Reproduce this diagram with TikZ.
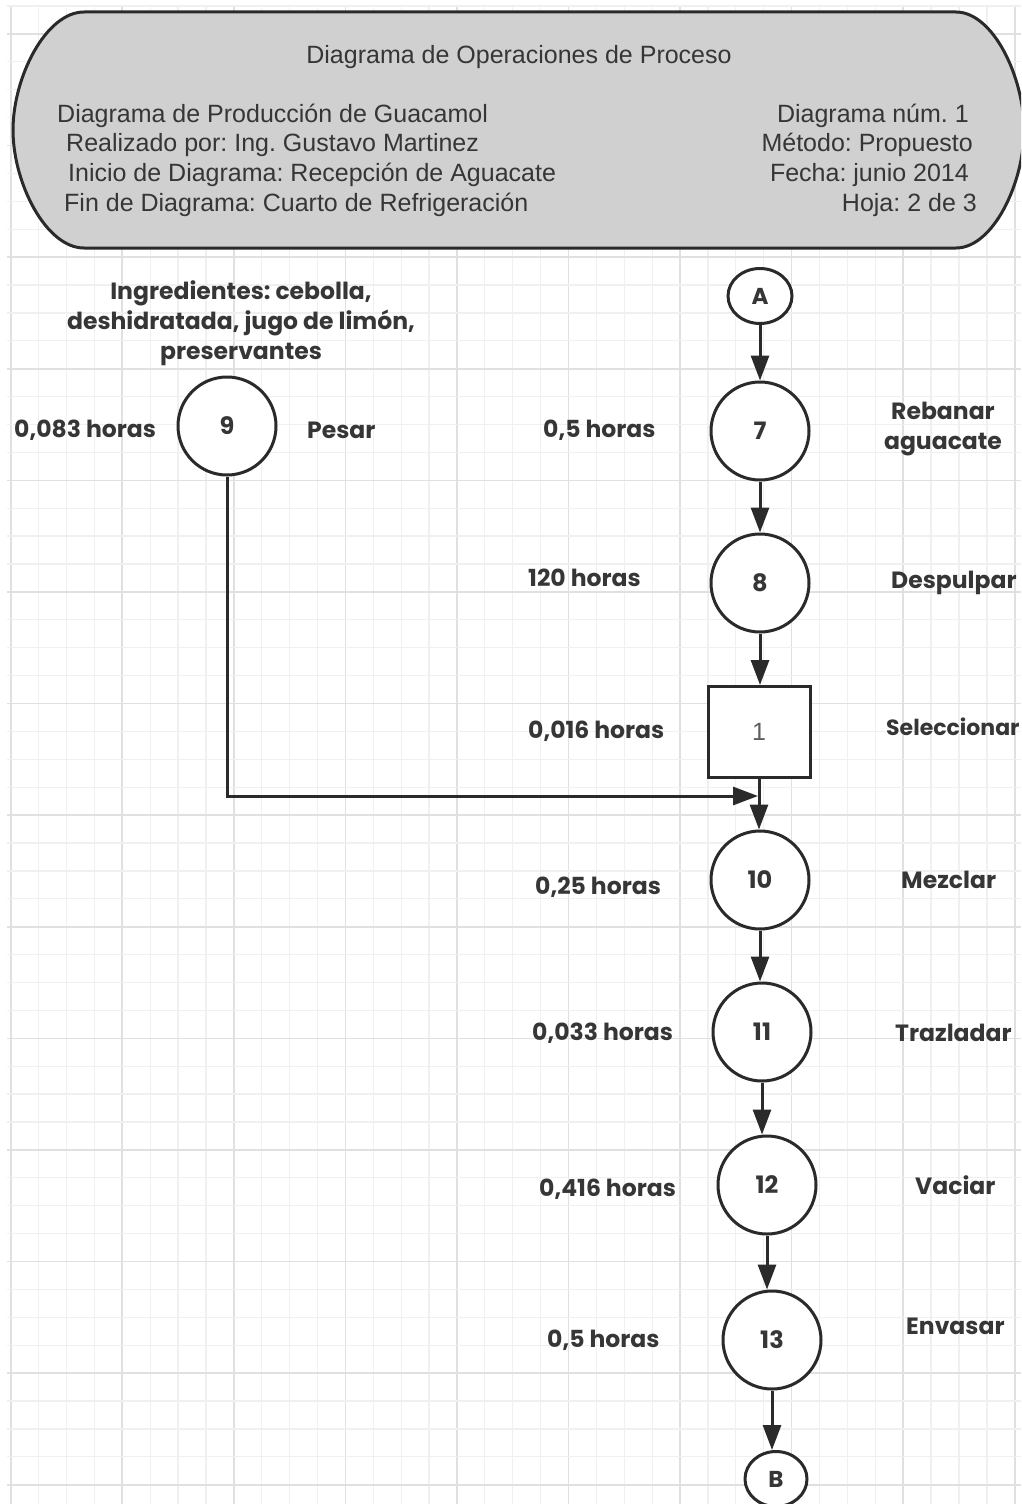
\documentclass[tikz,border=0pt]{standalone}
\usepackage{fontspec}
\setmainfont{Poppins}
\newfontfamily\hdrfont{Liberation Sans}
\frenchspacing
\usetikzlibrary{shapes.geometric,arrows.meta}
\definecolor{ink}{HTML}{2A2A2A}
\definecolor{txt}{HTML}{363636}
\definecolor{gridmajor}{HTML}{E0E0E0}
\definecolor{gridminor}{HTML}{F0F0F0}
\definecolor{hdrfill}{HTML}{D0D0D0}
\begin{document}
\begin{tikzpicture}[x=1pt,y=-1pt,
  op/.style={circle, draw=ink, line width=3pt, fill=white, minimum size=98pt,
    inner sep=0pt, text=txt, font=\fontsize{24}{28}\selectfont\bfseries},
  insp/.style={rectangle, draw=ink, line width=3pt, fill=white, minimum width=102pt,
    minimum height=91pt, inner sep=0pt, text=txt!80, font=\hdrfont\fontsize{25}{28}\selectfont},
  link/.style={ellipse, draw=ink, line width=3pt, fill=white, minimum width=64pt,
    minimum height=55pt, inner sep=0pt, text=txt, font=\fontsize{23}{26}\selectfont\bfseries},
  lbl/.style={inner sep=0pt, text=txt, font=\fontsize{23.5}{30}\selectfont\bfseries},
  hdr/.style={inner sep=0pt, text=txt, font=\hdrfont\fontsize{25}{30}\selectfont},
  arr/.style={draw=ink, line width=3pt, -{Triangle[length=25pt,width=18pt]}},
  flow/.style={draw=ink, line width=3pt}
]
\useasboundingbox (0,0) rectangle (1021,1504);
\clip (0,0) rectangle (1021,1504);
\fill[white] (0,0) rectangle (1021,1504);

% squared paper: a light line every 27.9 units, a darker one every fourth
\foreach \i in {0,...,36}{
  \pgfmathsetmacro\gx{10.7+27.89*\i}
  \pgfmathtruncatemacro\gm{mod(\i,4)}
  \ifnum\gm=0
    \draw[gridmajor, line width=1.6pt] (\gx,5) -- (\gx,1504);
  \else
    \draw[gridminor, line width=1.3pt] (\gx,5) -- (\gx,1504);
  \fi
}
\foreach \j in {0,...,53}{
  \pgfmathsetmacro\gy{6+27.9*\j}
  \pgfmathtruncatemacro\gm{mod(\j,4)}
  \ifnum\gm=1
    \draw[gridmajor, line width=1.6pt] (7,\gy) -- (1021,\gy);
  \else
    \draw[gridminor, line width=1.3pt] (7,\gy) -- (1021,\gy);
  \fi
}

% title block
\draw[ink, line width=3pt, fill=hdrfill]
  (84,12) -- (956,12)
  .. controls (993,12) and (1024,77) .. (1024,130)
  .. controls (1024,183) and (993,248) .. (956,248)
  -- (84,248)
  .. controls (46,248) and (13,183) .. (13,130)
  .. controls (13,77) and (46,12) .. cycle;

\node[hdr] (title) at (519,57) {Diagrama de Operaciones de Proceso};
\node[hdr, anchor=west] (h1) at (57,116) {Diagrama de Producción de Guacamol};
\node[hdr, anchor=west] (h2) at (66,145) {Realizado por: Ing. Gustavo Martinez};
\node[hdr, anchor=west] (h3) at (68,175) {Inicio de Diagrama: Recepción de Aguacate};
\node[hdr, anchor=west] (h4) at (64,205) {Fin de Diagrama: Cuarto de Refrigeración};
\node[hdr, anchor=east] (r1) at (969,116) {Diagrama núm. 1};
\node[hdr, anchor=east] (r2) at (973,145) {Método: Propuesto};
\node[hdr, anchor=east] (r3) at (969,175) {Fecha: junio 2014};
\node[hdr, anchor=east] (r4) at (977,205) {Hoja: 2 de 3};

% side branch
\node[lbl, align=center] (ingr) at (241,323)
  {Ingredientes: cebolla,\\deshidratada, jugo de limón,\\preservantes};
\node[op] (n9) at (227,426) {9};
\node[lbl, anchor=west] (t9) at (14,430) {0,083 horas};
\node[lbl, anchor=west] (d9) at (307,430) {Pesar};

% main line
\node[link] (A) at (760,296) {A};
\node[op] (n7) at (760,431) {7};
\node[op] (n8) at (760,583) {8};
\node[insp] (n1) at (759,732) {1};
\node[op] (n10) at (760,880) {10};
\node[op] (n11) at (762,1032) {11};
\node[op] (n12) at (767,1185) {12};
\node[op] (n13) at (772,1340) {13};
\node[link, minimum width=62pt] (B) at (776,1479) {B};

\node[lbl, anchor=west] (t7) at (543,430) {0,5 horas};
\node[lbl, align=center] (d7) at (943,429) {Rebanar\\aguacate};
\node[lbl, anchor=west] (t8) at (528,578) {120 horas};
\node[lbl, anchor=west] (d8) at (891,583) {Despulpar};
\node[lbl, anchor=west] (t1) at (528,731) {0,016 horas};
\node[lbl, anchor=west, font=\fontsize{22}{30}\selectfont\bfseries] (d1) at (886,727) {Seleccionar};
\node[lbl, anchor=west] (t10) at (535,887) {0,25 horas};
\node[lbl, anchor=west] (d10) at (901,880) {Mezclar};
\node[lbl, anchor=west] (t11) at (532,1033) {0,033 horas};
\node[lbl, anchor=west] (d11) at (895,1033) {Trazladar};
\node[lbl, anchor=west] (t12) at (539,1189) {0,416 horas};
\node[lbl, anchor=west] (d12) at (915,1185) {Vaciar};
\node[lbl, anchor=west] (t13) at (547,1340) {0,5 horas};
\node[lbl, anchor=west] (d13) at (906,1326) {Envasar};

% connectors
\draw[arr] (A.south) -- (A.south |- n7.north);
\draw[arr] (n7.south) -- (n7.south |- n8.north);
\draw[arr] (n8.south) -- (n8.south |- n1.north);
\draw[arr] (n1.south) -- (n1.south |- n10.north);
\coordinate (join) at (758,796);
\draw[arr] (n9.south) |- (join);
\draw[arr] (n10.south) -- (n10.south |- n11.north);
\draw[arr] (n11.south) -- (n11.south |- n12.north);
\draw[arr] (n12.south) -- (n12.south |- n13.north);
\draw[arr] (n13.south) -- (n13.south |- B.north);
\end{tikzpicture}
\end{document}
